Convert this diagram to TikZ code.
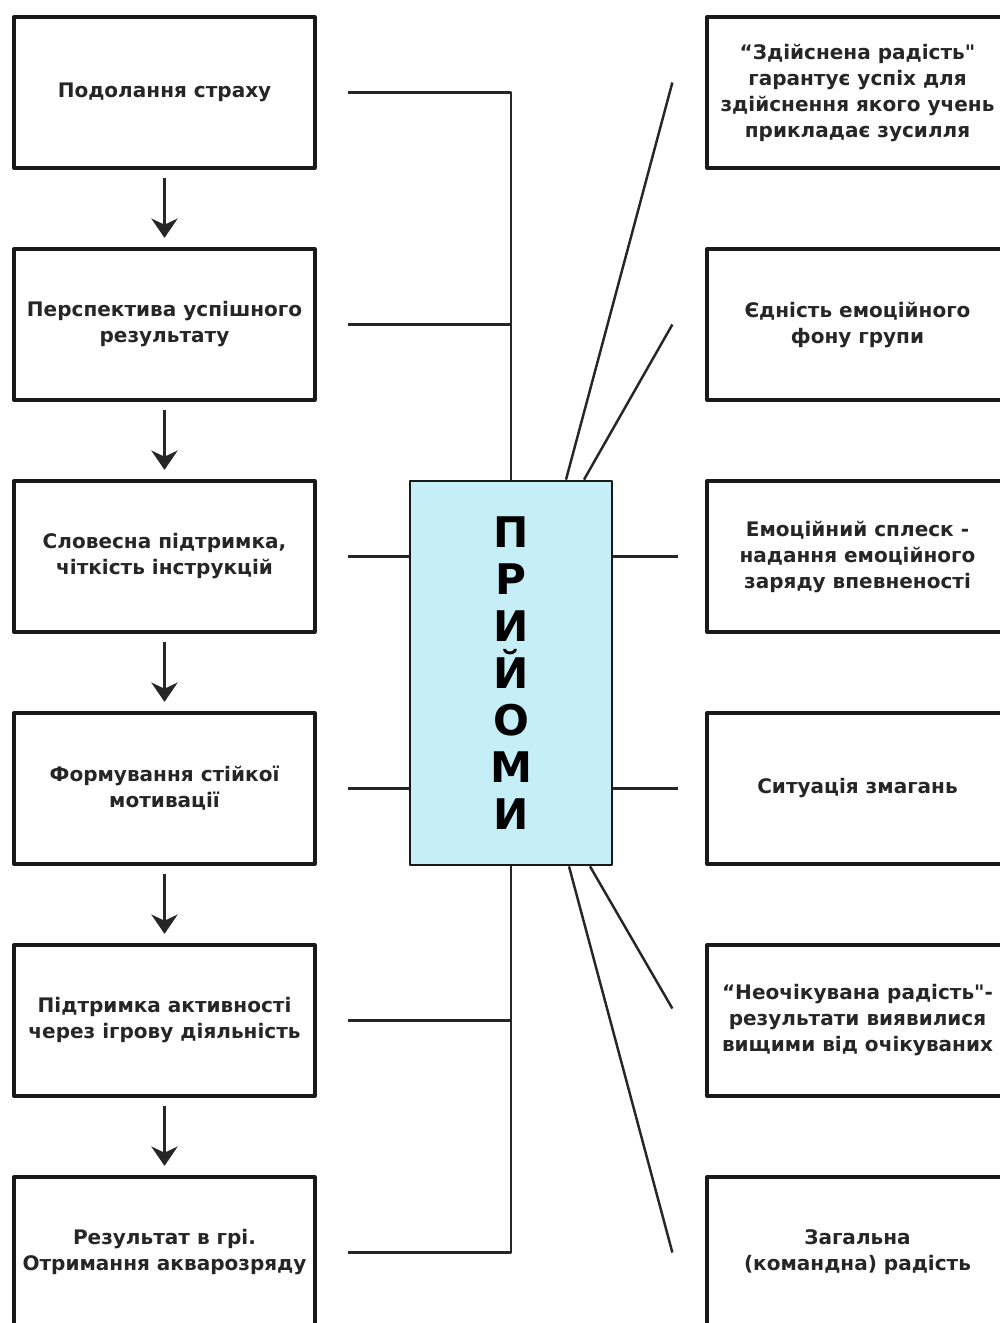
\documentclass[tikz,border=0pt]{standalone}
\usepackage{fontspec}
\setmainfont{DejaVu Sans}[Ligatures=TeXOff]
\usetikzlibrary{arrows.meta}
\usetikzlibrary{calc,positioning}

\begin{document}
\begin{tikzpicture}[x=0.02cm,y=-0.02cm,line join=round,>={Stealth[length=11pt,width=15pt,inset=3.5pt]}]
        \tikzset{stagebox/.style={draw=black!90,line width=1.9pt,minimum width=6.02cm,minimum height=3.02cm,
                   align=center,font=\fontsize{11.4}{14.8}\selectfont\bfseries,text=black!85},
                 corebox/.style={draw=black!90,line width=1.6pt,fill=coreblue,minimum width=4.04cm,minimum height=7.68cm,
                   align=center,font=\fontsize{24}{26.7}\selectfont\bfseries},
                 link/.style={line width=1.4pt,draw=black!85}}
        \definecolor{coreblue}{HTML}{C5EEF6}
        \useasboundingbox (0,0) rectangle (1000,1323);
        \clip (0,0) rectangle (1000,1323);
        % left column
        \foreach \txt [count=\i] in {{Подолання страху},{Перспектива успішного\\результату},
            {Словесна підтримка,\\чіткість інструкцій},{Формування стійкої\\мотивації},
            {Підтримка активності\\через ігрову діяльність},{Результат в грі.\\Отримання акварозряду}}
            \node[stagebox] (l\i) at (164.5,{92.5+232*(\i-1)}) {\txt};
        % right column
        \foreach \txt [count=\i] in {{“Здійснена радість"\\гарантує успіх для\\здійснення якого учень\\прикладає зусилля},
            {Єдність емоційного\\фону групи},{Емоційний сплеск -\\надання емоційного\\заряду впевненості},
            {Ситуація змагань},{“Неочікувана радість"-\\результати виявилися\\вищими від очікуваних},
            {Загальна\\(командна) радість}}
            \node[stagebox] (r\i) at (857.5,{92.5+232*(\i-1)}) {\txt};
        \node[corebox] (c) at (511,673) {П\\Р\\И\\Й\\О\\М\\И};
        \foreach \i [evaluate=\i as \j using int(\i+1)] in {1,...,5}
            \draw[link,->,shorten <=0.16cm,shorten >=0.19cm] (l\i.south) -- (l\j.north);
        % links to the core
        \draw[link] ([xshift=0.62cm]l1.east) -| (c.north);
        \draw[link] ([xshift=0.62cm]l2.east) -- (c.north |- l2.east);
        \draw[link] ([xshift=0.62cm]l3.east) -- (c.west |- l3.east);
        \draw[link] ([xshift=0.62cm]l4.east) -- (c.west |- l4.east);
        \draw[link] ([xshift=0.62cm]l5.east) -- (c.south |- l5.east);
        \draw[link] ([xshift=0.62cm]l6.east) -| (c.south);
        \draw[link] (c.east |- r3.west) -- ([xshift=-0.55cm]r3.west);
        \draw[link] (c.east |- r4.west) -- ([xshift=-0.55cm]r4.west);
        \draw[link] ([shift={(55,0)}]c.north) -- ([shift={(-33,-10)}]r1.west);
        \draw[link] ([shift={(73,0)}]c.north) -- ([shift={(-33,0)}]r2.west);
        \draw[link] ([shift={(79,0)}]c.south) -- ([shift={(-33,-12)}]r5.west);
        \draw[link] ([shift={(58,0)}]c.south) -- ([shift={(-33,0)}]r6.west);
\end{tikzpicture}
\end{document}
